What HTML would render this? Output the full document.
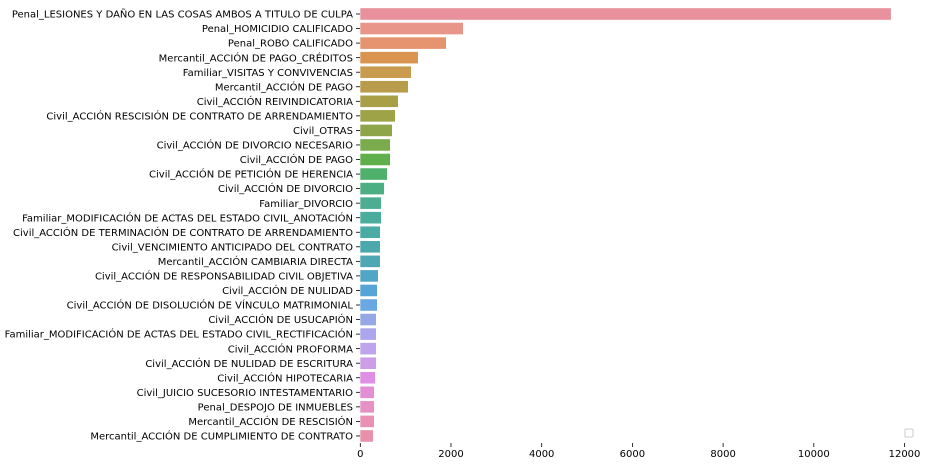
<!DOCTYPE html>
<html><head><meta charset="utf-8"><style>
html,body{margin:0;padding:0;background:#fff;}
svg text{font-family:"DejaVu Sans","Liberation Sans",sans-serif;font-size:10px;fill:#000;}
</style></head><body>
<svg id="chart" width="929" height="466" viewBox="0 0 929 466" xmlns="http://www.w3.org/2000/svg">
<g id="bars"></g>
<g id="ylabels"></g>
<g id="xaxis"></g>
<rect x="905" y="429" width="8" height="8" fill="#fff" stroke="#ccc" stroke-width="1" rx="1"/>
</svg>
<script>
const categories = [
"Penal_LESIONES Y DAÑO EN LAS COSAS AMBOS A TITULO DE CULPA",
"Penal_HOMICIDIO CALIFICADO",
"Penal_ROBO CALIFICADO",
"Mercantil_ACCIÓN DE PAGO_CRÉDITOS",
"Familiar_VISITAS Y CONVIVENCIAS",
"Mercantil_ACCIÓN DE PAGO",
"Civil_ACCIÓN REIVINDICATORIA",
"Civil_ACCIÓN RESCISIÓN DE CONTRATO DE ARRENDAMIENTO",
"Civil_OTRAS",
"Civil_ACCIÓN DE DIVORCIO NECESARIO",
"Civil_ACCIÓN DE PAGO",
"Civil_ACCIÓN DE PETICIÓN DE HERENCIA",
"Civil_ACCIÓN DE DIVORCIO",
"Familiar_DIVORCIO",
"Familiar_MODIFICACIÓN DE ACTAS DEL ESTADO CIVIL_ANOTACIÓN",
"Civil_ACCIÓN DE TERMINACIÓN DE CONTRATO DE ARRENDAMIENTO",
"Civil_VENCIMIENTO ANTICIPADO DEL CONTRATO",
"Mercantil_ACCIÓN CAMBIARIA DIRECTA",
"Civil_ACCIÓN DE RESPONSABILIDAD CIVIL OBJETIVA",
"Civil_ACCIÓN DE NULIDAD",
"Civil_ACCIÓN DE DISOLUCIÓN DE VÍNCULO MATRIMONIAL",
"Civil_ACCIÓN DE USUCAPIÓN",
"Familiar_MODIFICACIÓN DE ACTAS DEL ESTADO CIVIL_RECTIFICACIÓN",
"Civil_ACCIÓN PROFORMA",
"Civil_ACCIÓN DE NULIDAD DE ESCRITURA",
"Civil_ACCIÓN HIPOTECARIA",
"Civil_JUICIO SUCESORIO INTESTAMENTARIO",
"Penal_DESPOJO DE INMUEBLES",
"Mercantil_ACCIÓN DE RESCISIÓN",
"Mercantil_ACCIÓN DE CUMPLIMIENTO DE CONTRATO"];
const values = [11700,2265,1890,1272,1118,1052,831,765,699,655,655,589,523,456,456,434,434,434,390,368,368,346,346,346,346,324,302,302,302,280];
const xTicks = [0,2000,4000,6000,8000,10000,12000];
const colors = ["#e8919c","#e8968a","#e5946f","#d99550","#c99b4f","#b89c4b","#a99f46","#9da346","#8fa54a","#7aab4d","#5fb04b","#4eb06a","#4caf83","#4cad92","#4aac9c","#4aaaa4","#4ca9ab","#4da8b4","#4fa6c5","#55a6d6","#6aa8e3","#96a7e6","#aca6ec","#bda4ec","#cd9ee8","#df90e5","#e58ed5","#e790c5","#e891b5","#e892aa"];
const NS="http://www.w3.org/2000/svg";
const x0=360.3, xScale=(451-360.3)/2000;
const X=v=>x0+v*xScale;
const Y=i=>14+i*14.55;
const bh=11.6;
const gb=document.getElementById('bars'), gl=document.getElementById('ylabels'), gx=document.getElementById('xaxis');
categories.forEach((c,i)=>{
  const r=document.createElementNS(NS,'rect');
  
  
  r.setAttribute('x',X(0));r.setAttribute('y',Y(i)-bh/2);
  r.setAttribute('width',X(values[i])-X(0));r.setAttribute('height',bh);
  r.setAttribute('fill',colors[i]);gb.appendChild(r);
  const t=document.createElementNS(NS,'line');
  
  
  t.setAttribute('x1',356);t.setAttribute('x2',360);t.setAttribute('y1',Y(i));t.setAttribute('y2',Y(i));
  t.setAttribute('stroke','#000');t.setAttribute('stroke-width','0.8');gl.appendChild(t);
  const tx=document.createElementNS(NS,'text');
  
  
  tx.setAttribute('x',353);tx.setAttribute('y',Y(i)+3.6);tx.setAttribute('text-anchor','end');
  tx.textContent=c;gl.appendChild(tx);
});
xTicks.forEach(v=>{
  const t=document.createElementNS(NS,'line');
  
  
  t.setAttribute('x1',X(v));t.setAttribute('x2',X(v));t.setAttribute('y1',443);t.setAttribute('y2',447);
  t.setAttribute('stroke','#000');t.setAttribute('stroke-width','0.8');gx.appendChild(t);
  const tx=document.createElementNS(NS,'text');
  
  
  tx.setAttribute('x',X(v));tx.setAttribute('y',457);tx.setAttribute('text-anchor','middle');
  tx.textContent=v;gx.appendChild(tx);
});
</script>
</body></html>
